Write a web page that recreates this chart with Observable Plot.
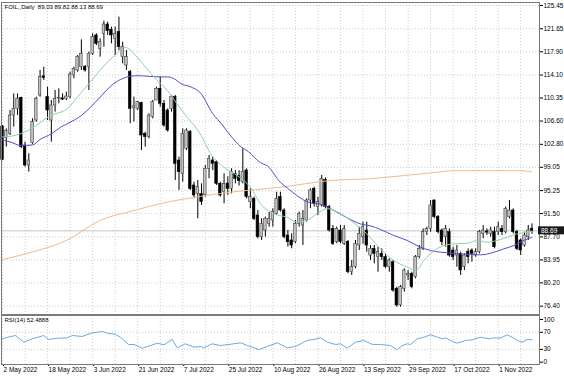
<!DOCTYPE html>
<html><head><meta charset="utf-8">
<script src="https://cdn.jsdelivr.net/npm/d3@7"></script>
<script src="https://cdn.jsdelivr.net/npm/@observablehq/plot@0.6"></script>
<style>
body{margin:0;background:#fff;}
#wrap{position:relative;width:564px;height:376px;overflow:hidden;background:#fff;}
#wrap svg{position:absolute;left:0;}
</style></head><body><div id="wrap"></div>
<script>
// ---- data (bar index = position in arrays) ----
const opens = [105.71,103.86,104.52,107.50,108.59,110.39,102.61,99.35,103.00,106.69,110.77,113.90,110.50,106.69,109.14,110.30,110.30,110.22,110.50,114.03,114.85,115.39,115.39,115.39,117.57,120.56,118.38,120.83,122.35,121.48,120.01,121.10,117.02,115.66,114.57,108.70,108.59,109.52,104.52,103.97,107.23,109.95,111.86,109.41,108.32,108.59,110.50,100.16,97.99,102.07,104.79,96.09,94.73,94.73,94.50,98.81,100.17,99.90,96.36,95.00,96.40,95.54,97.99,97.60,96.63,98.54,93.37,93.91,91.19,87.66,88.75,89.84,90.38,91.47,94.19,92.01,87.93,87.12,86.84,89.84,89.56,90.38,93.64,95.54,92.56,92.83,97.00,92.55,89.02,86.84,88.75,86.57,86.84,81.95,82.77,86.30,87.65,88.74,84.66,85.75,84.39,84.93,84.39,82.76,83.57,79.23,76.51,79.23,81.40,81.67,81.13,84.39,85.75,88.47,89.01,93.63,90.92,88.74,87.65,88.47,85.48,84.66,84.93,82.76,85.21,85.48,84.66,85.21,88.20,88.60,88.20,88.47,88.47,89.01,88.47,90.92,92.00,88.47,87.11,86.29,87.65,89.03];
const highs = [105.87,105.33,108.32,111.04,111.04,110.50,103.15,101.25,106.96,110.50,114.85,115.39,112.13,109.95,111.58,111.86,111.04,111.31,114.57,115.39,117.29,119.85,115.66,117.84,120.83,120.83,120.01,122.89,122.73,121.92,121.92,123.55,119.47,118.11,114.85,110.50,109.80,109.68,104.79,107.78,109.95,112.13,113.76,109.95,108.59,110.77,110.77,100.71,105.33,105.33,105.06,96.63,96.90,96.36,99.35,100.98,100.71,100.17,96.63,97.99,97.50,98.81,98.54,98.50,102.07,98.81,95.54,94.19,92.01,90.65,90.92,91.74,92.29,94.99,94.99,92.29,88.75,88.20,90.38,91.74,92.01,93.91,95.54,95.82,94.19,97.72,97.30,92.83,89.56,89.30,89.56,89.56,87.12,83.85,87.12,89.29,90.10,90.10,86.29,86.29,86.02,85.75,84.93,84.12,83.85,79.50,79.77,82.49,82.22,81.94,84.66,86.29,89.01,89.28,93.63,93.74,91.19,89.01,89.56,89.01,86.02,86.29,85.21,84.93,85.75,85.75,85.75,88.74,89.56,89.01,89.28,89.28,90.10,89.56,92.55,93.63,92.28,88.74,87.38,88.47,89.56,89.82];
const lows = [100.16,102.34,104.24,105.60,107.50,102.07,99.08,98.26,102.80,106.42,110.50,113.22,106.69,103.15,108.05,109.41,109.95,109.95,110.22,113.49,114.57,114.85,114.57,111.58,117.29,118.92,117.02,118.65,120.56,119.20,117.29,118.11,115.93,114.85,106.15,106.42,108.32,101.80,102.34,103.70,106.96,109.95,108.86,105.60,104.79,108.05,96.90,95.27,96.63,101.80,95.27,93.91,90.65,92.83,94.20,97.18,98.50,96.09,94.19,93.10,94.50,94.73,96.36,96.00,96.36,93.91,92.29,90.38,87.39,87.12,87.66,89.29,89.29,91.19,91.74,87.39,86.03,85.76,86.57,89.29,86.30,90.11,92.29,92.56,91.19,92.56,92.30,88.48,86.30,86.60,86.57,86.30,81.68,81.41,82.49,85.48,86.50,85.21,83.85,83.30,81.94,83.85,82.49,81.94,78.68,76.23,76.23,78.68,80.58,79.23,80.86,84.12,85.48,87.93,88.47,90.65,88.20,86.29,86.02,84.39,83.85,82.76,81.40,82.22,83.30,83.57,84.39,84.93,87.38,87.93,87.65,85.75,87.93,87.93,88.20,90.65,88.20,85.48,84.66,86.02,87.10,88.13];
const closes = [100.27,104.95,107.50,108.59,110.22,102.34,99.35,100.16,106.42,110.22,113.76,113.60,108.32,109.14,110.22,110.40,110.10,110.60,114.19,115.12,117.02,117.57,114.85,117.57,120.28,119.20,119.47,122.35,121.26,120.56,120.83,118.65,118.65,117.02,108.59,109.00,109.68,104.24,103.97,107.50,109.68,111.86,109.41,105.87,105.06,110.50,99.62,98.26,104.52,105.06,95.54,94.46,95.82,93.37,98.81,100.44,99.62,96.36,94.46,96.36,95.54,98.26,97.18,96.80,98.26,94.19,94.19,90.65,87.66,89.84,90.65,90.65,91.74,93.91,92.01,87.66,86.84,86.30,89.84,91.47,90.65,93.64,95.27,93.10,93.37,97.18,92.60,88.75,86.57,89.02,86.84,89.02,81.95,82.77,86.57,88.20,89.28,86.29,85.75,84.93,85.21,84.39,82.76,83.85,78.95,76.51,79.50,82.22,81.67,79.50,84.39,85.75,88.47,89.01,92.82,90.92,88.47,86.84,89.01,84.66,84.39,85.48,82.22,84.66,84.39,84.93,85.21,88.47,88.74,88.40,88.74,86.02,89.28,88.47,92.28,92.00,88.47,85.75,85.48,87.93,88.74,88.69];

// moving averages (bar index, price)
const maFastIdx = [0,3,7.5,12.8,17.2,19.9,22.6,25.2,27.9,30.5,32.3,33.6,35.9,38.5,41.2,43.9,46.5,49.2,52.7,55.4,58.9,62.5,66,68.7,72.2,75.8,78.5,81.1,83.8,86.5,90,93.5,96.5,100.7,104.2,107.8,110,112.2,115,117.5,120.2,123.8,126.4,129,131.7,134.4,137,139.7,141];
const maFastVal = [104.0,104.2,105.3,107.5,108.6,110.5,112.4,114.3,116.2,117.6,118.65,118.4,117.0,115.1,113.2,111.6,109.4,107.2,104.5,101.3,99.1,97.7,95.8,93.1,91.5,90.9,90.1,90.4,91.5,92.3,91.5,90.0,88.5,85.7,83.85,82.76,82.2,83.85,85.48,86.29,86.56,86.67,87.11,86.84,87.11,87.65,88.2,88.47,88.63];
const maMidIdx = [0,2,5,8,10,13,15.5,18,21,23.5,26,29,31.5,34,36,39,42,44,46,47.5,50,52.7,56,58.5,61,63.5,65.5,68.7,70.5,74,76,78.5,81.2,84.7,88.3,91.8,95.4,98,100.7,104.2,107.8,110.9,114,116.6,119.3,122,124.6,127.3,130.9,133.5,136.2,138.8,141];
const maMidVal = [103.5,103.2,102.6,102.7,103.6,104.5,105.6,106.4,107.5,108.9,110.5,112.4,113.4,113.9,114.0,113.9,113.8,113.8,113.4,112.7,112.2,111.2,107.8,106.0,104.0,102.4,101.6,99.8,99.3,96.6,95.6,94.4,93.4,93.0,92.0,90.8,89.8,89.5,88.9,87.93,87.11,86.13,85.48,85.21,85.04,84.93,84.83,84.77,85.21,85.75,86.29,87.11,87.65];
const maSlowIdx = [0,8.3,17,26,35,44,52.7,60.7,74,87.4,98,106.8,115.8,120,129,138,141];
const maSlowVal = [84.0,85.3,87.1,90.4,92.0,93.4,94.3,95.0,95.8,96.9,97.2,97.7,98.25,98.5,98.5,98.5,98.3];

// RSI(14) (bar index, value)
const rsiIdx = [0,1.3,3.5,5.7,7.9,11,12.3,14.6,17.2,18.6,21.2,23.9,26.6,27.9,30.1,31.4,33.6,35,37.2,39.4,41.2,43,45.2,46.5,48.7,51,52.7,53.6,55.8,58,60.3,63.4,65.2,68.3,70.5,73.2,75.8,78,81.1,82.9,84.7,86.5,88.7,90,91.8,94,96.2,98.5,100.7,103.3,105.1,106.4,107.8,108.7,110.4,112.2,114,115.8,117.1,118,119.8,121.1,123.3,125.1,127.3,129.5,130.8,132.2,133.1,134.4,135.7,137.1,138.4,139.7,141];
const rsiVal = [54.8,58.5,62.5,46.8,54.8,62.5,53.2,56.2,57,62.5,60.2,68.8,71.9,68,64.9,58.5,41.5,41.5,32.8,39.1,44.5,40.7,53.2,33.7,43.1,35.1,36.8,33.7,43.1,39.1,41.5,45.4,39.1,29.7,36.8,45.4,33.7,36.8,50.8,53.2,57.1,46.8,41.5,43.1,32.8,46.8,50.8,41.5,41.5,39.1,29.0,39.1,43.1,41.5,54.8,58.5,64.2,58.5,54.8,57.1,48.5,44.5,50.8,52.5,58.5,54.8,57.1,56.2,58.5,64.2,58.5,50.8,46.8,53.2,52.5];

const priceTicks = [125.45,121.65,117.90,114.10,110.35,106.60,102.80,99.05,95.25,91.50,87.70,83.95,80.20,76.40];
const rsiTicks = [100,70,30,0];
const rsiLevels = [70,30];
const dateLabels = ["2 May 2022","18 May 2022","3 Jun 2022","21 Jun 2022","7 Jul 2022","25 Jul 2022","10 Aug 2022","26 Aug 2022","13 Sep 2022","29 Sep 2022","17 Oct 2022","1 Nov 2022"];
const dateLabelIdx = [0,12,24,36,48,60,72,84,96,108,120,132];
const gridIdx = [0,6,12,18,24,30,36,42,48,54,60,66,72,78,84,90,96,102,108,114,120,126,132,138];
const symbol = "FOIL,,Daily";
const rsiName = "RSI(14)";
const rsiLast = 52.4888;

// ---- build ----
const candles = opens.map((o, i) => ({i, o, h: highs[i], l: lows[i], c: closes[i]}));
const last = candles[candles.length - 1];
const pairs = (xs, ys) => xs.map((x, k) => [x, ys[k]]);
const FONT = "'Liberation Sans', Arial, sans-serif";
const grid = {stroke: "#cdcdcd", strokeDasharray: "1,2", strokeWidth: 1};
const xDomain = [-0.27, 143.0];
const FS = 6.5;

const main = Plot.plot({
  width: 564, height: 315,
  marginLeft: 1, marginRight: 25, marginTop: 2, marginBottom: 1,
  x: {domain: xDomain, axis: null},
  y: {domain: [75.04, 125.94], axis: null},
  style: {fontFamily: FONT, fontSize: FS + "px", color: "#000", background: "transparent", overflow: "visible"},
  marks: [
    Plot.ruleY(priceTicks, grid),
    Plot.ruleX(gridIdx, grid),
    Plot.ruleY([last.c], {stroke: "#c4c4c4"}),
    Plot.ruleX(candles, {x: "i", y1: "l", y2: "h", stroke: "#000", strokeWidth: 1}),
    Plot.rect(candles, {
      x1: d => d.i - 0.34, x2: d => d.i + 0.34, y1: "o", y2: "c",
      fill: d => d.c >= d.o ? "#c2c2c2" : "#000",
      stroke: d => d.c >= d.o ? "#404040" : "#000", strokeWidth: 0.6
    }),
    Plot.line(pairs(maSlowIdx, maSlowVal), {stroke: "#f2b98e", strokeWidth: 1, curve: "monotone-x"}),
    Plot.line(pairs(maMidIdx, maMidVal), {stroke: "#4f4fcc", strokeWidth: 1, curve: "monotone-x"}),
    Plot.line(pairs(maFastIdx, maFastVal), {stroke: "#8dd1aa", strokeWidth: 1, curve: "monotone-x"}),
    Plot.axisY(priceTicks, {anchor: "right", tickSize: 3, tickPadding: 1, tickFormat: d => d.toFixed(2), fontSize: FS}),
    Plot.frame({stroke: "#7a7a7a"}),
    Plot.text([`${symbol}  ${last.o.toFixed(2)} ${last.h.toFixed(2)} ${last.l.toFixed(2)} ${last.c.toFixed(2)}`],
      {frameAnchor: "top-left", dx: 3, dy: 2, lineAnchor: "top", textAnchor: "start", fontSize: 6, fill: "#000"})
  ]
});
main.style.top = "0px";
// current-price box on the price scale
{
  const yS = main.scale("y");
  const yy = yS.apply(last.c);
  const g = d3.select(main).append("g");
  g.append("rect").attr("x", 538).attr("y", yy - 4).attr("width", 26).attr("height", 8).attr("fill", "#1a1a1a");
  g.append("text").attr("x", 541).attr("y", yy).attr("dy", "0.35em").attr("fill", "#ffffff")
    .attr("font-family", FONT).attr("font-size", FS).attr("text-anchor", "start").text(last.c.toFixed(2));
}

const rsi = Plot.plot({
  width: 564, height: 61,
  marginLeft: 1, marginRight: 25, marginTop: 0, marginBottom: 12,
  x: {domain: xDomain, axis: null},
  y: {domain: [-5.39, 109.37], axis: null},
  style: {fontFamily: FONT, fontSize: FS + "px", color: "#000", background: "transparent", overflow: "visible"},
  marks: [
    Plot.ruleX(gridIdx, grid),
    Plot.ruleY(rsiLevels, grid),
    Plot.line(pairs(rsiIdx, rsiVal), {stroke: "#6aaae8", strokeWidth: 1}),
    Plot.axisY(rsiTicks, {anchor: "right", tickSize: 3, tickPadding: 1, fontSize: FS}),
    Plot.axisX(dateLabelIdx, {anchor: "bottom", tickSize: 2, tickPadding: 1, textAnchor: "start", dx: 1,
      tickFormat: d => dateLabels[dateLabelIdx.indexOf(d)], fontSize: FS}),
    Plot.frame({stroke: "#7a7a7a"}),
    Plot.text([`${rsiName} ${rsiLast.toFixed(4)}`], {frameAnchor: "top-left", dx: 3, dy: 2, lineAnchor: "top", textAnchor: "start", fontSize: 6, fill: "#000"})
  ]
});
rsi.style.top = "315px";

const wrap = document.getElementById("wrap");
wrap.append(main, rsi);
</script>
</body></html>
